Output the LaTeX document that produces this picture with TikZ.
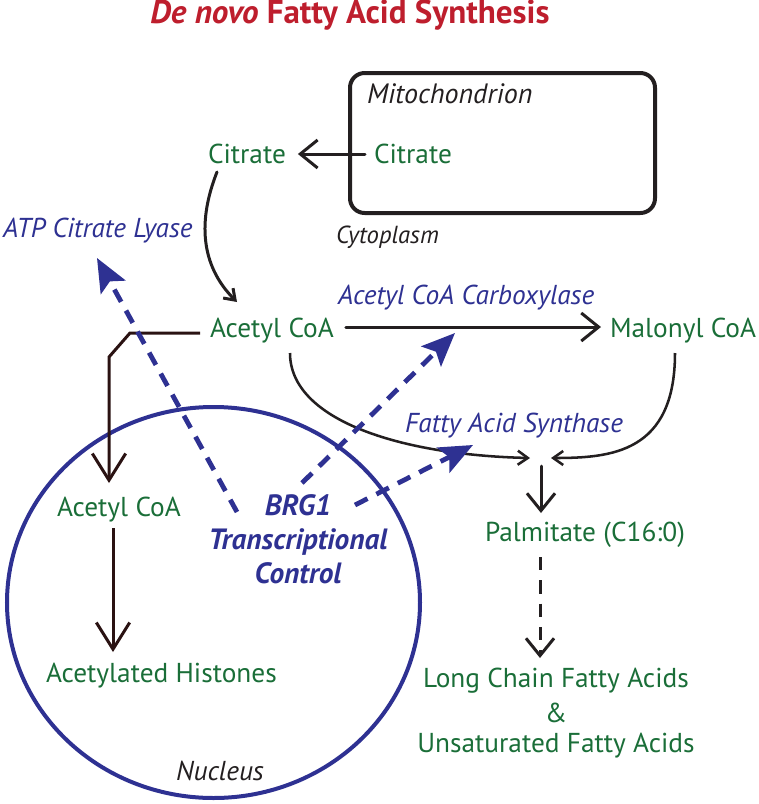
\documentclass[tikz,border=0pt]{standalone}
\usepackage{fontspec}
\setmainfont{PT Sans}
\usetikzlibrary{arrows.meta,calc}
\definecolor{grn}{HTML}{1A6E38}
\definecolor{blu}{HTML}{2E3192}
\definecolor{redt}{HTML}{BE1E2D}
\definecolor{brn}{HTML}{2A1212}
\definecolor{blk}{HTML}{231F20}
\begin{document}
\begin{tikzpicture}[x=0.75pt,y=-0.75pt,
  txt/.style={inner sep=0pt,outer sep=0pt,anchor=base west},
  grtxt/.style={txt,text=grn,font=\fontsize{20.5}{24}\selectfont},
  bltxt/.style={txt,text=blu,font=\fontsize{20.5}{24}\selectfont\itshape},
  bktxt/.style={txt,text=blk,font=\fontsize{21}{24}\selectfont\itshape},
  brgtxt/.style={inner sep=0pt,anchor=base,text=blu,align=center,
     font=\fontsize{22}{25.5}\selectfont\bfseries\itshape},
  ttl/.style={inner sep=0pt,anchor=base,text=redt,font=\fontsize{24.8}{28}\selectfont\bfseries},
  bigarr/.style={line width=2.25pt,draw=blk,line cap=round,line join=round},
  brnarr/.style={line width=2.25pt,draw=brn,line join=miter},
  thinarr/.style={line width=1.9pt,draw=blk},
  bluedash/.style={line width=3.6pt,draw=blu,dash pattern=on 10.5pt off 7.5pt,
     -{Stealth[length=25pt,width=21pt,inset=5pt,fill=blu]}},
  barbS/.style={-{Straight Barb[length=7.5pt,width=10.5pt]}},
  barbM/.style={-{Straight Barb[length=13pt,width=21pt]}},
  barbL/.style={-{Straight Barb[length=20pt,width=25pt]}}
]
\useasboundingbox (0,0) rectangle (758,804);
% title
\node[ttl] (title) at (350,23) {\textit{De novo} Fatty Acid Synthesis};
% mitochondrion
\node[draw=blk,line width=3pt,rounded corners=11pt,minimum width=228.75pt,
      minimum height=105pt,inner sep=0pt] (mito) at (502.5,143) {};
\node[bktxt] (mitolab) at (367,103) {Mitochondrion};
\node[bktxt,font=\fontsize{18.5}{21}\selectfont\itshape] (cyto) at (336,243) {Cytoplasm};
% nucleus
\draw[draw=blu,line width=3pt] (213.5,602.5) ellipse [x radius=206.5, y radius=195.5];
\node[bktxt,font=\fontsize{20.5}{24}\selectfont\itshape] (nuc) at (176,780) {Nucleus};
% metabolites
\node[grtxt] (citin) at (374,163) {Citrate};
\node[grtxt] (citout) at (208,163) {Citrate};
\node[grtxt] (acoa) at (210,337) {Acetyl CoA};
\node[grtxt] (mal) at (610,337) {Malonyl CoA};
\node[grtxt] (nacoa) at (57,516) {Acetyl CoA};
\node[grtxt] (hist) at (46,682) {Acetylated Histones};
\node[grtxt] (palm) at (485,541) {Palmitate (C16:0)};
\node[grtxt,anchor=base] (lcfa) at (556,687) {Long Chain Fatty Acids};
\node[grtxt,anchor=base] (amp) at (556,722) {\&};
\node[grtxt,anchor=base] (ufa) at (556,752) {Unsaturated Fatty Acids};
% enzymes
\node[bltxt] (atp) at (3,237) {ATP Citrate Lyase};
\node[bltxt] (acc) at (338,304) {Acetyl CoA Carboxylase};
\node[bltxt] (fas) at (405,432) {Fatty Acid Synthase};
\node[brgtxt] (brg) at (298,583) {BRG1\\Transcriptional\\Control};
% connectors
\draw[bigarr,barbM] ($(citin.base west)+(-9,-9)$) -- ($(citout.base east)+(12,-9)$);
\draw[bigarr,barbS] ($(citout.base west)+(9,9)$) .. controls +(-19,48) and +(-37,-37) .. ($(acoa.base west)+(27,-35)$);
\draw[bigarr,barbM] ($(acoa.base east)+(12,-10)$) -- ($(mal.base west)+(-9,-10)$);
\draw[brnarr,barbL] ($(acoa.base west)+(-10,-4)$) -- ++(-70,0) -- ++(-21,24) -- ($(nacoa.base west)+(52,-33)$);
\draw[brnarr,barbL] ($(nacoa.base west)+(56,12)$) -- ($(hist.base west)+(67,-30)$);
\coordinate (join) at ($(palm.base west)+(56,-75)$);
\draw[thinarr,barbS] ($(acoa.base west)+(80,16)$) .. controls +(0,67) and +(-130,-3) .. ($(join)+(-11,-8)$);
\draw[thinarr,barbS] ($(mal.base west)+(65,16)$) .. controls +(0,100) and +(60,0) .. ($(join)+(10,-8)$);
\draw[bigarr,barbM] (join) -- ($(palm.base west)+(56,-28)$);
\draw[bigarr,barbM,dash pattern=on 10pt off 7.5pt,line cap=butt] ($(palm.base west)+(55,16)$) -- ($(lcfa.base)+(-16,-29)$);
% regulation
\draw[bluedash] ($(brg.base)+(-61,-71)$) -- ($(atp.base west)+(94,21)$);
\draw[bluedash] ($(brg.base)+(4,-100)$) -- ($(acc.base west)+(117,29)$);
\draw[bluedash] ($(brg.base)+(57,-78)$) -- ($(fas.base west)+(68,13)$);
\end{tikzpicture}
\end{document}
